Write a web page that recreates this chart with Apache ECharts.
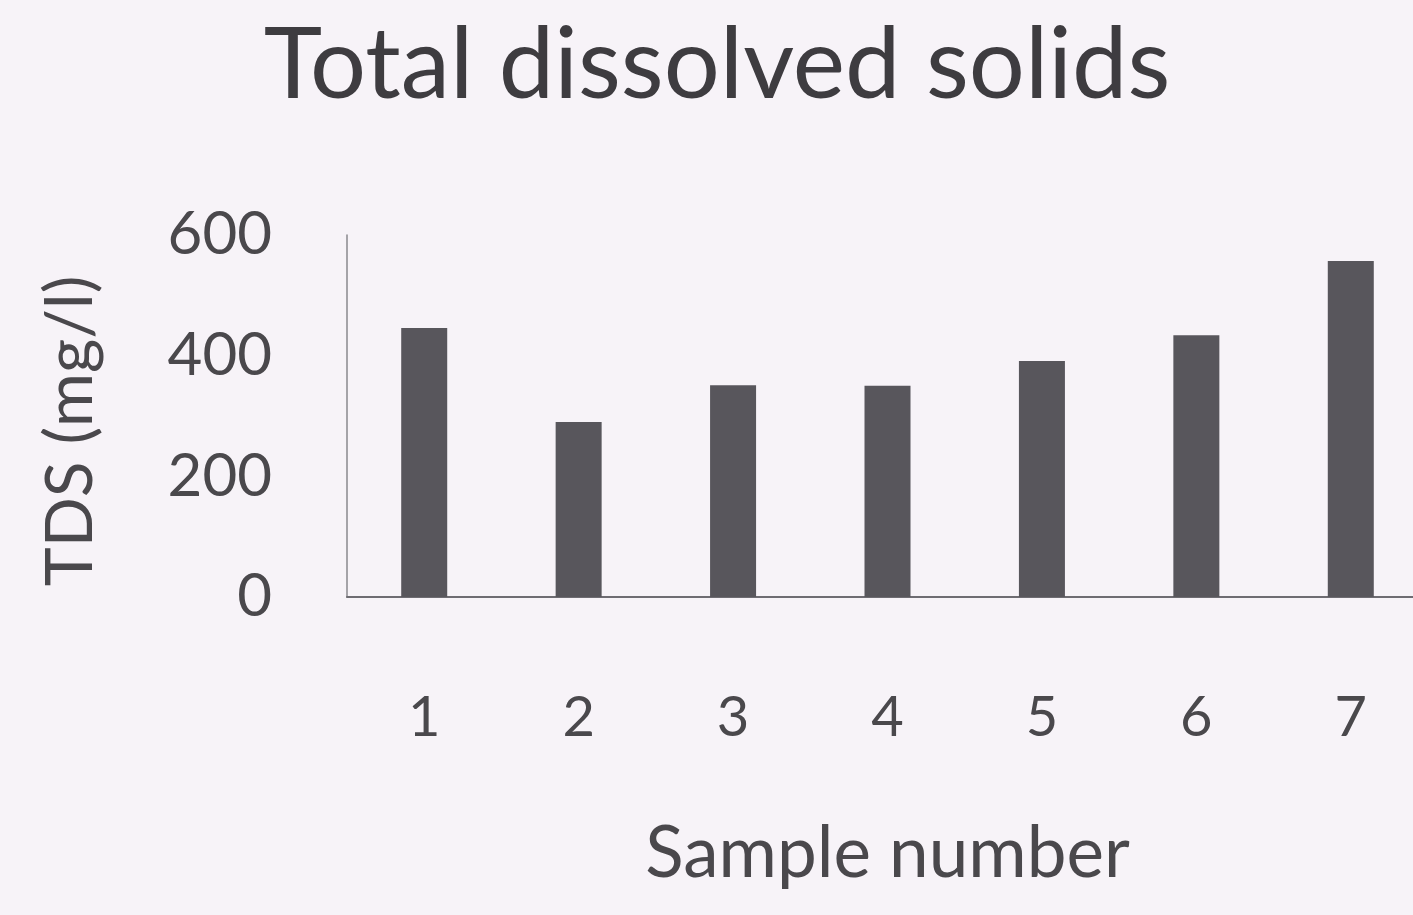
<!DOCTYPE html>
<html>
<head>
<meta charset="utf-8">
<script src="https://cdn.jsdelivr.net/npm/echarts@6/dist/echarts.min.js"></script>
<style>
  html, body { margin: 0; padding: 0; background: #f7f3f8; }
  #main { width: 1413px; height: 915px; }
</style>
</head>
<body>
<div id="main"></div>
<script>
// 样本编号
var samples = ['1', '2', '3', '4', '5', '6', '7'];
// TDS (mg/l)
var tdsValues = [446, 290, 351, 350, 391, 434, 557];
var yTicks = [0, 200, 400, 600];

var myChart = echarts.init(document.getElementById('main'));
var textColor = '#4a484c';
var fontName = 'Lato';

option = {
    backgroundColor: '#f7f3f8',
    title: {
        text: 'Total dissolved solids',
        left: 712,
        top: 12,
        textAlign: 'center',
        textStyle: { fontFamily: fontName, fontSize: 99, fontWeight: 'normal', color: '#3e3c40' }
    },
    grid: { left: 347, width: 1081, top: 235, bottom: 318, outerBoundsMode: 'none', containLabel: false },
    xAxis: {
        type: 'category',
        data: samples,
        name: 'Sample number',
        nameLocation: 'middle',
        nameGap: 222,
        nameTextStyle: { fontFamily: fontName, fontSize: 71, color: textColor },
        axisLine: { lineStyle: { color: '#6e6c72', width: 2 } },
        axisTick: { show: false },
        axisLabel: { margin: 93, fontFamily: fontName, fontSize: 56, color: textColor }
    },
    yAxis: {
        type: 'value',
        min: yTicks[0],
        max: yTicks[yTicks.length - 1],
        interval: 200,
        name: 'TDS (mg/l)',
        nameLocation: 'middle',
        nameGap: 243,
        nameTextStyle: { fontFamily: fontName, fontSize: 66, color: textColor, padding: [0, 30, 0, 0] },
        axisLine: { show: true, lineStyle: { color: '#8a888e', width: 1.5 } },
        axisTick: { show: false },
        splitLine: { show: false },
        axisLabel: { margin: 75, fontFamily: fontName, fontSize: 60, color: textColor }
    },
    series: [{
        type: 'bar',
        data: tdsValues,
        barWidth: 46,
        itemStyle: { color: '#58565c' }
    }]
};
myChart.setOption(option);
</script>
</body>
</html>
